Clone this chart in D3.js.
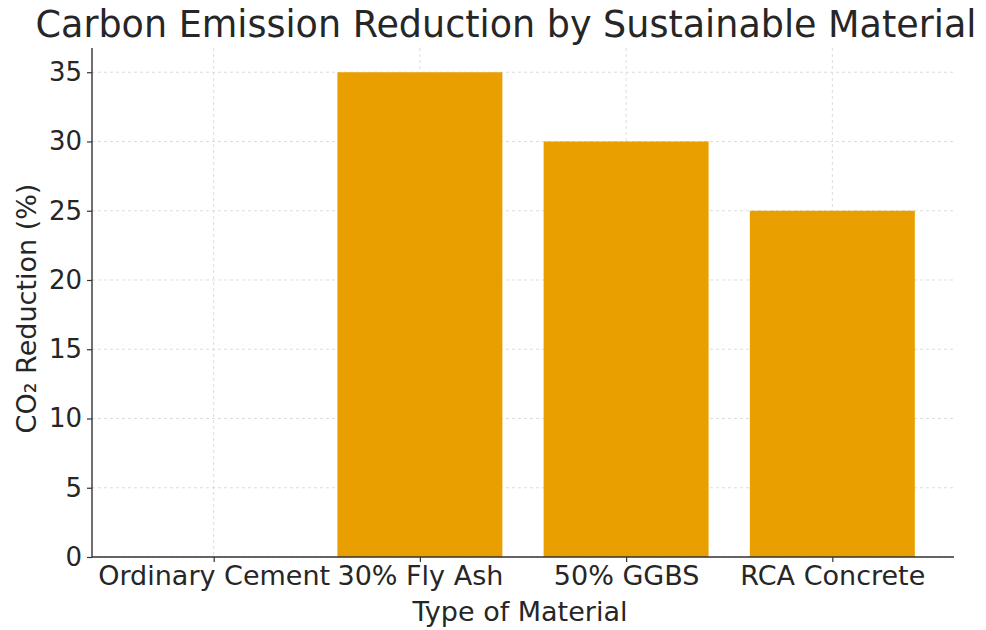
<!DOCTYPE html>
<html><head><meta charset="utf-8">
<script src="https://cdn.jsdelivr.net/npm/d3@7"></script>
<style>body{margin:0;background:#fff}text{font-family:"DejaVu Sans",sans-serif;fill:#262626}</style>
</head><body><svg id="c" width="986" height="630"></svg>
<script>
const categories = ["Ordinary Cement", "30% Fly Ash", "50% GGBS", "RCA Concrete"];
const reductions = [0, 35, 30, 25];
const yTicks = [0, 5, 10, 15, 20, 25, 30, 35];
const title = "Carbon Emission Reduction by Sustainable Material";
const xTitle = "Type of Material";
const yTitle = "CO\u2082 Reduction (%)";

const svg = d3.select("#c");
const L = 92, R = 954, T = 48, B = 557;
const x = d3.scaleLinear().domain([-0.59, categories.length - 1 + 0.59]).range([L, R]);
const y = d3.scaleLinear().domain([0, 36.75]).range([B, T]);
const bw = x(0.4) - x(-0.4);

// grid
const g = svg.append("g");
g.selectAll(".gy").data(yTicks).join("line")
  .attr("x1", L).attr("x2", R).attr("y1", d => y(d)).attr("y2", d => y(d))
  .attr("stroke", "#d9d9d9").attr("stroke-width", 0.9).attr("stroke-dasharray", "3,3");
g.selectAll(".gx").data(categories).join("line")
  .attr("x1", (d, i) => x(i)).attr("x2", (d, i) => x(i)).attr("y1", T).attr("y2", B)
  .attr("stroke", "#d9d9d9").attr("stroke-width", 0.9).attr("stroke-dasharray", "3,3");

// bars
svg.append("g").selectAll("rect").data(reductions).join("rect")
  .attr("x", (d, i) => x(i) - bw / 2).attr("width", bw)
  .attr("y", d => y(d)).attr("height", d => B - y(d))
  .attr("fill", "#EA9F00");

// axes
const yAxis = d3.axisLeft(y).tickValues(yTicks).tickSize(5).tickPadding(5);
const ya = svg.append("g").attr("transform", `translate(${L},0)`).call(yAxis);
ya.select(".domain").attr("stroke", "#333").attr("stroke-width", 1.4).attr("d", `M0,${T}V${B}`);
ya.selectAll(".tick line").attr("stroke", "#333").attr("stroke-width", 1.2);
ya.selectAll(".tick text").style("font-size", "26px").style("font-family", "DejaVu Sans").attr("fill", "#262626");

const xAxis = d3.axisBottom(x).tickValues(d3.range(categories.length)).tickFormat(i => categories[i]).tickSize(5).tickPadding(4);
const xa = svg.append("g").attr("transform", `translate(0,${B})`).call(xAxis);
xa.select(".domain").attr("stroke", "#333").attr("stroke-width", 1.4).attr("d", `M${L},0H${R}`);
xa.selectAll(".tick line").attr("stroke", "#333").attr("stroke-width", 1.2);
xa.selectAll(".tick text").style("font-size", "27px").style("font-family", "DejaVu Sans").attr("fill", "#262626");

svg.append("text").attr("x", 506).attr("y", 37).attr("text-anchor", "middle")
  .style("font-size", "36.5px").text(title);
svg.append("text").attr("x", 520).attr("y", 621).attr("text-anchor", "middle")
  .style("font-size", "27px").text(xTitle);
svg.append("text").attr("transform", `translate(36,${(T + B) / 2 + 6}) rotate(-90)`).attr("text-anchor", "middle")
  .style("font-size", "27px").text(yTitle);
</script></body></html>
